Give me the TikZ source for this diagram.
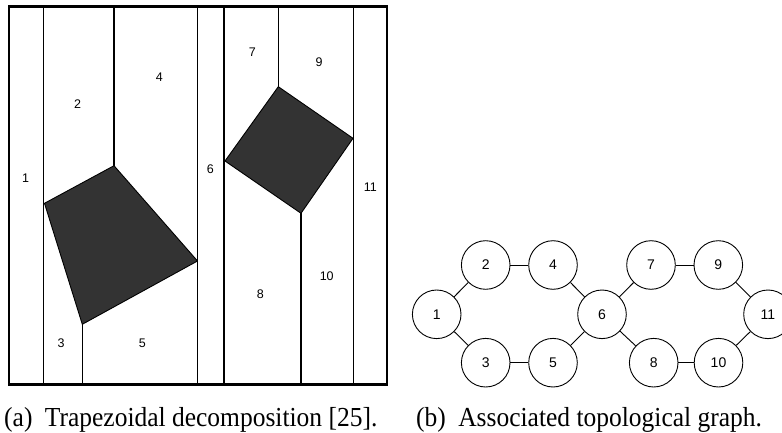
\documentclass[tikz,border=0pt]{standalone}
\usepackage{fontspec}
\setmainfont{Liberation Serif}
\newfontfamily\labelfont{Liberation Sans}
\newfontfamily\capfont[FakeStretch=0.927]{Liberation Serif}

\tikzset{
  outerframe/.style={line width=2.6pt},
  cutline/.style={line width=1.5pt},
  obstacle/.style={fill=black!80, draw=black, line width=0.9pt, line join=round},
  region/.style={font=\labelfont\fontsize{12.5}{14}\selectfont, inner sep=0pt},
  vertex/.style={circle, draw, line width=0.9pt, minimum size=48.6pt, inner sep=0pt,
                 font=\labelfont\fontsize{14}{16}\selectfont},
  link/.style={line width=0.9pt},
  captiontext/.style={font=\capfont\fontsize{27.5}{30}\selectfont, inner sep=0pt, anchor=base west}
}

\begin{document}
\begin{tikzpicture}[x=1pt, y=-1pt]
\useasboundingbox (0,0) rectangle (782,433);

% ---------- trapezoidal decomposition ----------
% full-height vertical cuts
\foreach \xx in {43.7, 197.7, 224, 353.3}
  \draw[cutline] (\xx,6.5) -- (\xx,384.5);
% partial cuts ending at obstacle vertices
\draw[cutline] (114,6.5) -- (114,165.7);
\draw[cutline] (278.3,6.5) -- (278.3,86.7);
\draw[cutline] (82.3,324.3) -- (82.3,384.5);
\draw[cutline] (301,213.3) -- (301,384.5);

% obstacles
\draw[obstacle] (114,165.7) -- (197.5,261) -- (82.3,324.3) -- (44.5,203.3) -- cycle;
\draw[obstacle] (278.3,86.7) -- (353,138.3) -- (301,213.3) -- (225,161) -- cycle;

% outer boundary
\draw[outerframe] (8.8,6.5) rectangle (387,384.5);

% region labels
\node[region] (r1)  at (25.7,178.3) {1};
\node[region] (r2)  at (77.7,104.3) {2};
\node[region] (r3)  at (61,343.3)   {3};
\node[region] (r4)  at (159.3,77.7) {4};
\node[region] (r5)  at (142.3,343.3){5};
\node[region] (r6)  at (210.3,169.3){6};
\node[region] (r7)  at (252.3,52.3) {7};
\node[region] (r8)  at (260.3,293.7){8};
\node[region] (r9)  at (319,61.7)   {9};
\node[region] (r10) at (326.7,276)  {10};
\node[region] (r11) at (370.3,187.7){11};

% ---------- topological graph ----------
\node[vertex] (n1)  at (436.7,314.3) {1};
\node[vertex] (n2)  at (485.7,265)   {2};
\node[vertex] (n3)  at (485.7,362.7) {3};
\node[vertex] (n4)  at (553,265)     {4};
\node[vertex] (n5)  at (553,362.7)   {5};
\node[vertex] (n6)  at (602,314.3)   {6};
\node[vertex] (n7)  at (651,265)     {7};
\node[vertex] (n8)  at (653.7,362.7) {8};
\node[vertex] (n9)  at (718.3,265)   {9};
\node[vertex] (n10) at (718.5,362.7) {10};
\node[vertex] (n11) at (768,314.3)   {11};

\draw[link] (n1) -- (n2);
\draw[link] (n1) -- (n3);
\draw[link] (n2) -- (n4);
\draw[link] (n3) -- (n5);
\draw[link] (n4) -- (n6);
\draw[link] (n5) -- (n6);
\draw[link] (n6) -- (n7);
\draw[link] (n6) -- (n8);
\draw[link] (n7) -- (n9);
\draw[link] (n8) -- (n10);
\draw[link] (n9) -- (n11);
\draw[link] (n10) -- (n11);

% ---------- captions ----------
\node[captiontext] (capa) at (4,426) {(a)\hspace{0.45em}Trapezoidal decomposition [25].};
\node[captiontext] (capb) at (416,426) {(b)\hspace{0.45em}Associated topological graph.};
\end{tikzpicture}
\end{document}
